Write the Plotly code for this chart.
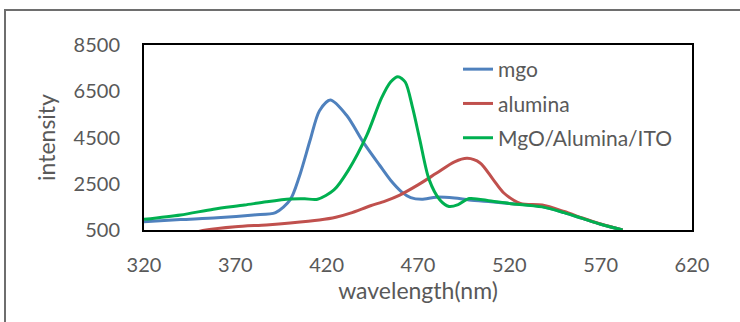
import plotly.graph_objects as go

mgo_wl = [320, 340, 360, 380, 392, 400, 405, 411, 416, 422, 431, 440, 449, 455, 461, 466, 472, 480, 490, 498, 510, 520, 538, 550, 560, 570, 582]
mgo_int = [860, 950, 1030, 1150, 1250, 1800, 2800, 4400, 5650, 6120, 5450, 4300, 3300, 2650, 2150, 1900, 1830, 1920, 1880, 1800, 1720, 1650, 1510, 1250, 1000, 750, 500]

alu_wl = [340, 354, 370, 387, 400, 416, 425, 433, 444, 452, 460, 470, 480, 490, 497, 504, 511, 517, 526, 538, 550, 560, 570, 582]
alu_int = [250, 500, 640, 720, 800, 930, 1050, 1230, 1550, 1750, 2010, 2450, 2950, 3450, 3600, 3400, 2700, 2100, 1650, 1580, 1300, 1020, 760, 500]

ito_wl = [320, 340, 358, 375, 387, 400, 408, 415, 424, 432, 442, 450, 455, 459, 463, 467, 471, 476, 482, 487, 492, 498, 510, 520, 538, 550, 560, 570, 582]
ito_int = [960, 1150, 1400, 1580, 1720, 1840, 1850, 1830, 2230, 3100, 4600, 6200, 6900, 7130, 6900, 5800, 4400, 2700, 1800, 1520, 1600, 1860, 1750, 1650, 1500, 1250, 1000, 750, 500]

x_ticks = [320, 370, 420, 470, 520, 570, 620]
y_ticks = [500, 2500, 4500, 6500, 8500]

FONT = "Lato"
GRAY = "#595959"
FS = 20
FS_LEG = 21
FS_TITLE = 23

fig = go.Figure()
series = [
    ("mgo", mgo_wl, mgo_int, "#4F81BD"),
    ("alumina", alu_wl, alu_int, "#C0504D"),
    ("MgO/Alumina/ITO", ito_wl, ito_int, "#00B050"),
]
for name, xs, ys, col in series:
    fig.add_trace(go.Scatter(x=xs, y=ys, mode="lines", name=name, legendgroup=name,
                             line=dict(color=col, width=3, shape="spline", smoothing=0.8)))

W, H = 740, 322
L, R, T, B = 144, 48, 45, 92
pw, ph = W - L - R, H - T - B

def px2paper_x(px):
    return (px - L) / pw

def px2paper_y(py):
    return (H - B - py) / ph

fig.add_shape(type="rect", xref="paper", yref="paper",
              x0=px2paper_x(5), x1=px2paper_x(760), y0=px2paper_y(340), y1=px2paper_y(10),
              line=dict(color="#6E6E6E", width=2), layer="below")

fig.update_layout(
    width=W, height=H,
    margin=dict(l=L, r=R, t=T, b=B),
    paper_bgcolor="white", plot_bgcolor="white",
    font=dict(family=FONT, size=FS, color=GRAY),
    showlegend=True,
    legend=dict(x=px2paper_x(458), y=px2paper_y(49), xanchor="left", yanchor="top",
                bgcolor="rgba(0,0,0,0)", font=dict(size=FS_LEG, color=GRAY, family=FONT),
                traceorder="grouped", tracegroupgap=4, itemwidth=30),
    xaxis=dict(range=[320, 620], tickvals=x_ticks, ticktext=[str(v) for v in x_ticks],
               showgrid=False, zeroline=False, showline=True, mirror=True,
               linecolor="black", linewidth=2, ticks="outside", ticklen=16, tickcolor="rgba(0,0,0,0)",
               tickfont=dict(size=FS, color=GRAY, family=FONT),
               title=dict(text="wavelength(nm)", font=dict(size=FS_TITLE, color=GRAY, family=FONT), standoff=8)),
    yaxis=dict(range=[500, 8500], tickvals=y_ticks, ticktext=[str(v) for v in y_ticks],
               showgrid=False, zeroline=False, showline=True, mirror=True,
               linecolor="black", linewidth=2, ticks="outside", ticklen=18, tickcolor="rgba(0,0,0,0)",
               tickfont=dict(size=FS, color=GRAY, family=FONT),
               title=dict(text="intensity", font=dict(size=FS_TITLE, color=GRAY, family=FONT), standoff=12)),
)

fig.write_html("out.html", config={"displayModeBar": False},
               post_script="document.body.style.margin='0';")
